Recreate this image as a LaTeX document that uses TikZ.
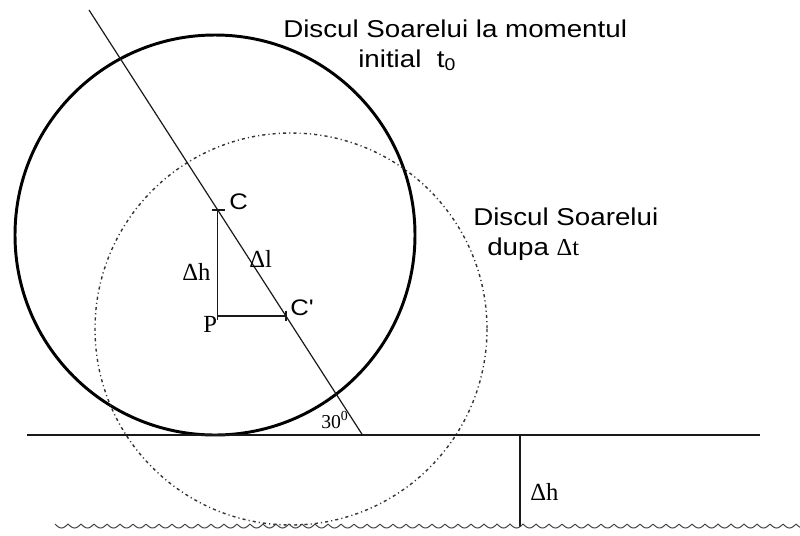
\documentclass[tikz,border=0pt]{standalone}
\usepackage{fontspec}
\setmainfont{Liberation Sans}
\newfontfamily\labelfont[FakeStretch=1.14]{Liberation Sans}
\newfontfamily\symfont{Liberation Serif}
\usetikzlibrary{calc}

\begin{document}
\begin{tikzpicture}[x=0.025cm,y=-0.025cm]
		% ---- Frame (pixel units, y downwards) ----
		\useasboundingbox (0,0) rectangle (800,535);
		
		% ---- Geometry ----
		\def\yH{435}   % horizon
		\def\yW{524}   % top of the water line
		\def\rS{200}   % radius of the solar disc
		\def\rD{196}   % radius of the displaced disc
		
		% ---- Styles ----
		\tikzset{
			thin line/.style={line width=0.85pt, black!90},
			disc/.style={line width=2.1pt, black},
			moved disc/.style={line width=1pt, black!80,
				dash pattern=on 2.2pt off 2.2pt on 0.8pt off 2.2pt},
			txt/.style={anchor=base west, inner sep=0pt,
				font=\labelfont\fontsize{17.3}{20}\selectfont},
			sym/.style={anchor=base west, inner sep=0pt,
				font=\symfont\fontsize{17.5}{20}\selectfont},
		}
		
		% ---- Points ----
		\coordinate (O)   at (215,235);   % centre of the solar disc
		\coordinate (O2)  at (291,329);   % centre of the displaced disc
		\coordinate (top) at (89,10);
		\coordinate (foot) at (362.5,\yH);
		\coordinate (C)   at (217.7,210);
		\coordinate (Cp)  at (285.9,316);
		\coordinate (P)   at (217.7,316);
		\coordinate (hL)  at (27,\yH);
		\coordinate (hR)  at (760,\yH);
		\coordinate (dT)  at (520,\yH);
		\coordinate (dB)  at (520,527);
		
		% ---- Discs ----
		\draw[disc] (O) circle (\rS);
		\draw[moved disc] (O2) circle (\rD);
		
		% ---- Horizon, slanted path and water line ----
		\draw[thin line] (hL) -- (hR);
		\draw[thin line] (top) -- (foot);
		\draw[thin line] (dT) -- (dB);
		\draw[line width=0.7pt, black!75, domain=55:800, samples=800, variable=\t]
			plot (\t, {\yW+4*abs(sin(13.846*(\t-55)))});
		
		% ---- Triangle C - P - C' ----
		\draw[thin line] (C) -- ($(P)+(0,4)$);
		\draw[thin line] (P) -- (Cp);
		\draw[thin line] ($(C)+(-6,0)$) -- ($(C)+(7,0)$);
		\draw[thin line] ($(Cp)+(0,-5)$) -- ($(Cp)+(0,5)$);
		
		% ---- Labels ----
		\node[txt] (t1) at (283,37) {Discul Soarelui la momentul};
		\node[txt] (t2) at (358,67) {initial\ \ t\textsubscript{0}};
		\node[txt] (t3) at (473,225) {Discul Soarelui};
		\node[txt] (t4) at (487,255) {dupa {\symfont Δt}};
		
		\node[txt, font=\labelfont\fontsize{16}{18}\selectfont] (lC) at (229,209) {C};
		\node[txt, font=\labelfont\fontsize{16}{18}\selectfont] (lCp) at (290,315) {C'};
		\node[sym] (lP) at (203,332) {P};
		\node[sym] (lh) at (182,280) {Δh};
		\node[sym] (ll) at (249,267) {Δl};
		\node[sym] (lh2) at (530,500) {Δh};
		\node[sym, font=\symfont\fontsize{14}{16}\selectfont] (la) at (321,428) {30\textsuperscript{0}};
		
	\end{tikzpicture}
\end{document}
